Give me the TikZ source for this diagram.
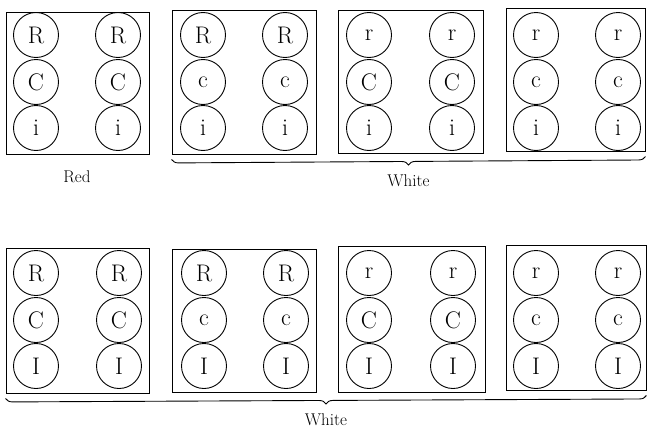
\documentclass[tikz,border=0pt]{standalone}
\usetikzlibrary{decorations.pathreplacing}
\tikzset{
  gbox/.style={draw, rectangle, line width=0.9pt, inner sep=0pt},
  gene/.style={draw, circle, line width=0.9pt, minimum size=45pt, inner sep=0pt,
    font=\fontsize{24}{24}\selectfont},
  lab/.style={font=\fontsize{17}{17}\selectfont},
  brc/.style={decorate, decoration={brace, mirror, amplitude=7pt}, line width=0.9pt}
}
\begin{document}
\begin{tikzpicture}[x=1pt, y=-1pt]
\useasboundingbox (0,0) rectangle (648,431);
% boxes: name / left / top / right / bottom / left circle x / right circle x / row1 y / letters
\foreach \n/\xa/\ya/\xb/\yb/\cl/\cr/\ry/\la/\lb/\lc in {
  b1/6/12/149/154/36/118/35/R/C/i,
  b2/172/10/316/154/203/285/35/R/c/i,
  b3/338/10/483/153/369/452/35/r/C/i,
  b4/506/8/645/151/536/618/35/r/c/i,
  b5/6/248/149/393/36/119/273/R/C/I,
  b6/172/249/316/392/204/286/273/R/c/I,
  b7/338/246/485/392/369/453/273/r/C/I,
  b8/506/245/646/390/536/618/273/r/c/I}{
  \node[gbox, minimum width={(\xb-\xa)*1pt}, minimum height={(\yb-\ya)*1pt}]
     (\n) at ({(\xa+\xb)/2},{(\ya+\yb)/2}) {};
  \node[gene] (\n l1) at (\cl,\ry) {\la};
  \node[gene] (\n l2) at (\cl,{\ry+47}) {\lb};
  \node[gene] (\n l3) at (\cl,{\ry+93}) {\lc};
  \node[gene] (\n r1) at (\cr,\ry) {\la};
  \node[gene] (\n r2) at (\cr,{\ry+47}) {\lb};
  \node[gene] (\n r3) at (\cr,{\ry+93}) {\lc};
}
\node[lab] (red) at (77,177) {Red};
\draw[brc] ([yshift=-5pt]b2.south west) -- ([yshift=-5pt]b4.south east)
  node[midway, below=13pt, lab] (white1) {White};
\draw[brc] ([yshift=-5pt]b5.south west) -- ([yshift=-5pt]b8.south east)
  node[midway, below=13pt, lab] (white2) {White};
\end{tikzpicture}
\end{document}
